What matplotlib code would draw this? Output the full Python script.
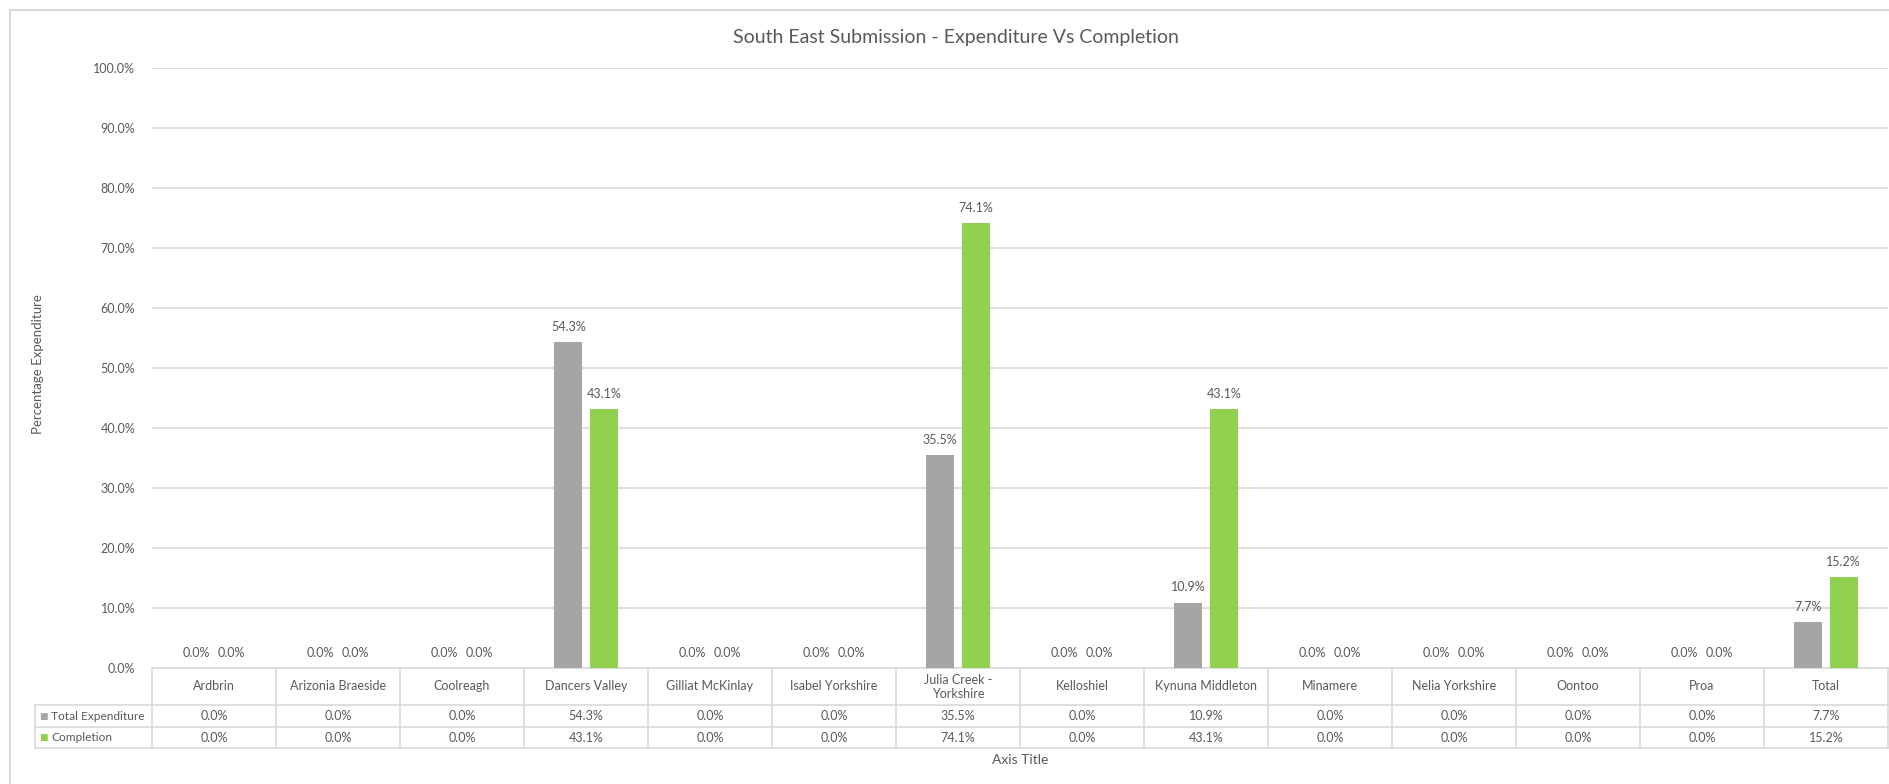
import numpy as np
import matplotlib
matplotlib.use("Agg")
import matplotlib.pyplot as plt
import matplotlib.transforms as mtransforms
from matplotlib.patches import Rectangle

plt.rcParams['font.family'] = ['Lato', 'DejaVu Sans']

# chart data
sites = ["Ardbrin", "Arizonia Braeside", "Coolreagh", "Dancers Valley", "Gilliat McKinlay",
         "Isabel Yorkshire", "Julia Creek -\nYorkshire", "Kelloshiel", "Kynuna Middleton",
         "Minamere", "Nelia Yorkshire", "Oontoo", "Proa", "Total"]
expenditure = [0.0, 0.0, 0.0, 54.3, 0.0, 0.0, 35.5, 0.0, 10.9, 0.0, 0.0, 0.0, 0.0, 7.7]
completion = [0.0, 0.0, 0.0, 43.1, 0.0, 0.0, 74.1, 0.0, 43.1, 0.0, 0.0, 0.0, 0.0, 15.2]
series_names = ["Total Expenditure", "Completion"]
y_ticks = [0, 10, 20, 30, 40, 50, 60, 70, 80, 90, 100]

GREY = "#A5A5A5"
GREEN = "#92D050"
TEXT = "#595959"
LINE = "#D9D9D9"
FS = 9

W, H = 1890, 784
fig = plt.figure(figsize=(W / 100, H / 100), dpi=100)

# outer chart border
fig.patches.append(Rectangle((10 / W, -0.1), 1.2, (H - 10) / H + 0.1, transform=fig.transFigure,
                             fill=False, edgecolor=LINE, linewidth=1.5))

ax = fig.add_axes([152 / W, (H - 668) / H, 1736 / W, 600 / H])
n = len(sites)
x = np.arange(n)
bw = 0.226
off = 0.143

ax.bar(x - off, expenditure, bw, color=GREY, zorder=3)
ax.bar(x + off, completion, bw, color=GREEN, zorder=3)

for xs, vals in ((x - off, expenditure), (x + off, completion)):
    for xi, v in zip(xs, vals):
        ax.annotate("%.1f%%" % v, (xi, v), xytext=(0, 11), textcoords="offset points",
                    ha="center", va="center", fontsize=FS, color=TEXT)

ax.set_xlim(-0.5, n - 0.5)
ax.set_ylim(0, 100)
ax.set_yticks(y_ticks)
ax.set_yticklabels(["%.1f%%" % t for t in y_ticks], fontsize=FS, color=TEXT)
ax.tick_params(axis="y", length=0, pad=12)
ax.set_xticks([])
ax.grid(axis="y", color=LINE, linewidth=1.2, zorder=0)
for s in ax.spines.values():
    s.set_visible(False)

fig.text(956 / W, 1 - 38 / H, "South East Submission - Expenditure Vs Completion",
         ha="center", va="center", fontsize=14, color=TEXT)
fig.text(38 / W, 1 - 364 / H, "Percentage Expenditure", rotation=90, ha="center", va="center",
         fontsize=9.5, color=TEXT)
fig.text((152 + 1888) / 2 / W, 1 - 760 / H, "Axis Title", ha="center", va="center",
         fontsize=10, color=TEXT)

# data table under the axis
trans = mtransforms.blended_transform_factory(ax.transData, ax.transAxes)
y_head = -37 / 600
y_r1 = -59 / 600
y_r2 = -80 / 600
x_leg = -0.5 - 117 / 124.0
kw = dict(transform=trans, color=LINE, linewidth=1.2, clip_on=False)

ax.plot([-0.5, n - 0.5], [0, 0], **kw)
for yy in (y_head, y_r1, y_r2):
    ax.plot([x_leg, n - 0.5], [yy, yy], **kw)
for b in np.arange(n + 1) - 0.5:
    ax.plot([b, b], [0, y_r2], **kw)
ax.plot([x_leg, x_leg], [y_head, y_r2], **kw)

for i, name in enumerate(sites):
    ax.text(i, y_head / 2, name, transform=trans, ha="center", va="center",
            fontsize=FS, color=TEXT, linespacing=1.2)
    ax.text(i, (y_head + y_r1) / 2, "%.1f%%" % expenditure[i], transform=trans,
            ha="center", va="center", fontsize=FS, color=TEXT)
    ax.text(i, (y_r1 + y_r2) / 2, "%.1f%%" % completion[i], transform=trans,
            ha="center", va="center", fontsize=FS, color=TEXT)

# legend keys in the row headers
for (y0, y1), label, col in (((y_head, y_r1), series_names[0], GREY),
                             ((y_r1, y_r2), series_names[1], GREEN)):
    yc = (y0 + y1) / 2
    ax.text(x_leg + 0.035, yc, "\u25A0", transform=trans, ha="left", va="center",
            fontsize=6.5, color=col, family="DejaVu Sans")
    ax.text(x_leg + 0.13, yc, label, transform=trans, ha="left", va="center",
            fontsize=8.6, color=TEXT)

fig.savefig("out.png", dpi=100)
